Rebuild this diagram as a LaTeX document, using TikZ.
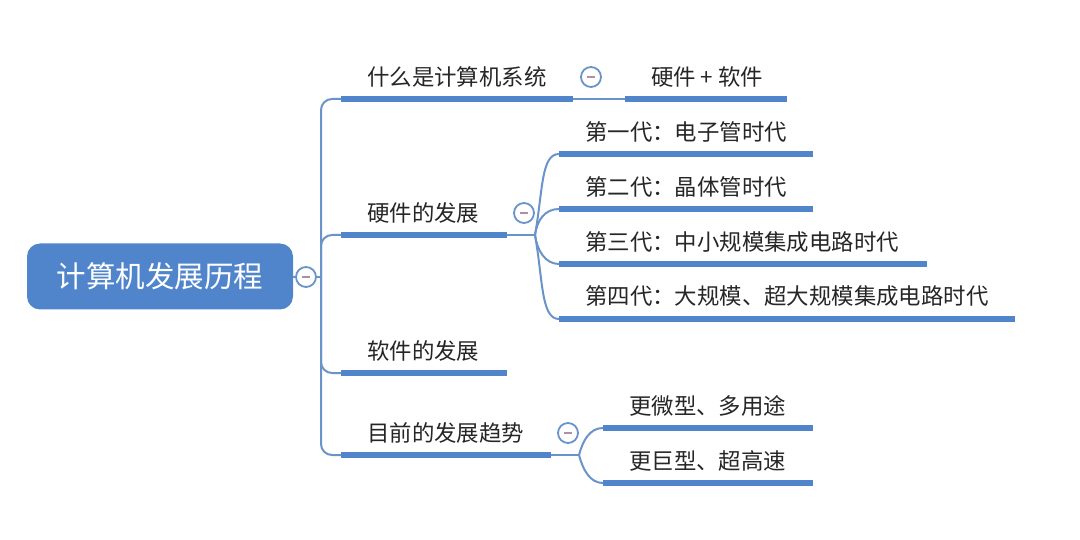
\documentclass[tikz,border=0pt]{standalone}
\usepackage{xcolor}
\usepackage{fontspec}
\setmainfont{Noto Sans CJK SC}
\definecolor{barblue}{HTML}{5085CB}
\definecolor{wireblue}{HTML}{6A93C9}
\definecolor{inkgrey}{HTML}{262626}
\definecolor{dashgrey}{HTML}{B08FA6}
\tikzset{
    label/.style={anchor=west,inner sep=0pt,text=inkgrey,font=\fontsize{22.4}{25}\selectfont},
    bar/.style={fill=barblue,anchor=west,inner sep=0pt,minimum height=6pt},
    wire/.style={draw=wireblue,line width=2pt},
    collapse/.style={circle,draw=wireblue,fill=white,line width=1.8pt,inner sep=0pt,minimum size=20pt,
        path picture={\draw[dashgrey,line width=1.5pt] ([xshift=-4pt]path picture bounding box.center) -- ([xshift=4pt]path picture bounding box.center);}}
}
\begin{document}
\begin{tikzpicture}[x=1pt,y=-1pt]
            \useasboundingbox (0,0) rectangle (1080,540);
            \node[fill=barblue,rounded corners=13pt,minimum width=266pt,minimum height=66pt,inner sep=0pt,text=white,font=\fontsize{29.5}{32}\selectfont] (root) at (160,276.5) {计算机发展历程};
            \node[collapse] (rootbtn) at (306,277) {};
            \coordinate (trunk) at (321,277);
            % level one
            \node[bar,minimum width=232pt] (sys) at (341,99) {};
            \node[bar,minimum width=166pt] (hw) at (341,235) {};
            \node[bar,minimum width=166pt] (sw) at (341,373) {};
            \node[bar,minimum width=210pt] (trend) at (341,455) {};
            \node[label] (systext) at (367,77) {什么是计算机系统};
            \node[label] (hwtext) at (367,213) {硬件的发展};
            \node[label] (swtext) at (367,351) {软件的发展};
            \node[label] (trendtext) at (367,433) {目前的发展趋势};
            \node[collapse] (sysbtn) at (591,77) {};
            \node[collapse] (hwbtn) at (524,213) {};
            \node[collapse] (trendbtn) at (568,433) {};
            % level two
            \node[bar,minimum width=162pt] (mix) at (625,99) {};
            \node[bar,minimum width=254pt] (gen1) at (559,154) {};
            \node[bar,minimum width=254pt] (gen2) at (559,209) {};
            \node[bar,minimum width=368pt] (gen3) at (559,264) {};
            \node[bar,minimum width=456pt] (gen4) at (559,319) {};
            \node[bar,minimum width=210pt] (micro) at (603,428) {};
            \node[bar,minimum width=210pt] (giant) at (603,483) {};
            \node[label] (mixtext) at (651,77) {硬件 + 软件};
            \node[label] (gen1text) at (585,132) {第一代：电子管时代};
            \node[label] (gen2text) at (585,187) {第二代：晶体管时代};
            \node[label] (gen3text) at (585,242) {第三代：中小规模集成电路时代};
            \node[label] (gen4text) at (585,296) {第四代：大规模、超大规模集成电路时代};
            \node[label] (microtext) at (629,406) {更微型、多用途};
            \node[label] (gianttext) at (629,461) {更巨型、超高速};
            \coordinate (hwfork) at (535,235);
            \coordinate (trendfork) at (579,455);
            \draw[wire] (root) -- (rootbtn);
            \draw[wire] (rootbtn) -- (trunk);
            \draw[wire,rounded corners=11pt] (trunk) |- (sys.west);
            \draw[wire,rounded corners=11pt] (trunk) |- (hw.west);
            \draw[wire,rounded corners=11pt] (trunk) |- (sw.west);
            \draw[wire,rounded corners=11pt] (trunk) |- (trend.west);
            \draw[wire] (sys.east) -- (mix.west);
            \draw[wire] (hw.east) -- (hwfork);
            \draw[wire] (trend.east) -- (trendfork);
            \draw[wire] (hwfork) .. controls (543,190) and (541,154) .. (gen1.west);
            \draw[wire] (hwfork) .. controls (537,220) and (545,209) .. (gen2.west);
            \draw[wire] (hwfork) .. controls (537,250) and (545,264) .. (gen3.west);
            \draw[wire] (hwfork) .. controls (543,280) and (541,319) .. (gen4.west);
            \draw[wire] (trendfork) .. controls (583,440) and (590,428) .. (micro.west);
            \draw[wire] (trendfork) .. controls (583,470) and (590,483) .. (giant.west);
        \end{tikzpicture}
\end{document}
